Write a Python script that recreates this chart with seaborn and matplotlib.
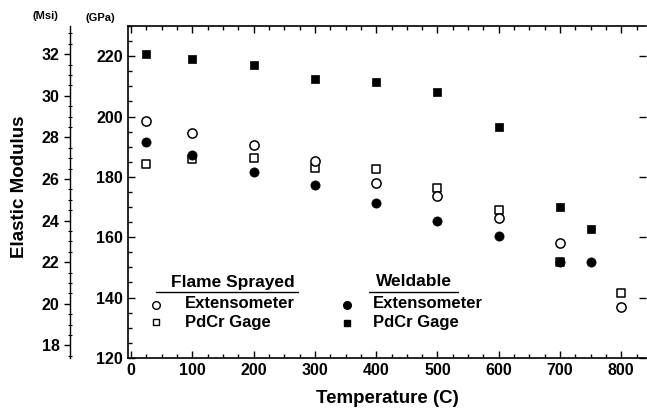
import matplotlib
matplotlib.use("Agg")
import matplotlib.pyplot as plt
from matplotlib.ticker import MultipleLocator
import seaborn as sns
import pandas as pd

# Data (GPa)
temp_weld = [25, 100, 200, 300, 400, 500, 600, 700, 750]
weld_pdcr = [220.7, 219.0, 217.0, 212.6, 211.6, 208.1, 196.5, 170.1, 162.8]
weld_ext = [191.7, 187.4, 181.7, 177.3, 171.2, 165.3, 160.3, 151.7, 151.7]

temp_flame = [25, 100, 200, 300, 400, 500, 600, 700, 800]
flame_ext = [198.6, 194.4, 190.4, 185.2, 178.0, 173.6, 166.4, 158.1, 136.8]
flame_pdcr = [184.4, 185.8, 186.3, 183.0, 182.5, 176.4, 169.0, 151.7, 141.5]

sns.set_theme(style="ticks")
plt.rcParams["font.family"] = ["Liberation Sans", "DejaVu Sans"]
plt.rcParams["font.weight"] = "bold"
plt.rcParams["text.color"] = "black"
plt.rcParams["axes.labelcolor"] = "black"
plt.rcParams["xtick.color"] = "black"
plt.rcParams["ytick.color"] = "black"

fig = plt.figure(figsize=(6.47, 4.2), dpi=100)
ax = fig.add_axes([0.198, 0.148, 0.800, 0.790])

df_fp = pd.DataFrame({"T": temp_flame, "E": flame_pdcr})
df_fe = pd.DataFrame({"T": temp_flame, "E": flame_ext})
df_wp = pd.DataFrame({"T": temp_weld, "E": weld_pdcr})
df_we = pd.DataFrame({"T": temp_weld, "E": weld_ext})

sns.scatterplot(data=df_fp, x="T", y="E", marker="s", s=30, facecolor="white",
                edgecolor="black", linewidth=1.1, ax=ax, zorder=3)
sns.scatterplot(data=df_fe, x="T", y="E", marker="o", s=44, facecolor="white",
                edgecolor="black", linewidth=1.1, ax=ax, zorder=3)
sns.scatterplot(data=df_wp, x="T", y="E", marker="s", s=30, color="black",
                edgecolor="black", linewidth=0.5, ax=ax, zorder=4)
sns.scatterplot(data=df_we, x="T", y="E", marker="o", s=44, color="black",
                edgecolor="black", linewidth=0.5, ax=ax, zorder=4)

ax.set_xlim(-5, 840)
ax.set_ylim(120, 230)
ax.xaxis.set_major_locator(MultipleLocator(100))
ax.xaxis.set_minor_locator(MultipleLocator(25))
ax.yaxis.set_major_locator(MultipleLocator(20))
ax.yaxis.set_minor_locator(MultipleLocator(5))
ax.set_yticks([120, 140, 160, 180, 200, 220])
ax.tick_params(which="both", direction="in", top=True, right=False,
               labelsize=11.5, width=1.0, color="black", labelcolor="black")
ax.tick_params(which="major", length=5)
ax.tick_params(which="minor", length=3)
ax.tick_params(axis="y", which="major", right=True)
ax.spines["right"].set_visible(False)
for s in ["left", "bottom", "top"]:
    ax.spines[s].set_linewidth(1.2)
    ax.spines[s].set_color("black")
for lab in ax.get_xticklabels() + ax.get_yticklabels():
    lab.set_fontweight("bold")
ax.set_xlabel("Temperature (C)", fontsize=13.5, fontweight="bold", labelpad=9, color="black")
ax.set_ylabel("")

# Secondary Msi axis
sec = ax.secondary_yaxis(-0.112, functions=(lambda g: g / 6.895, lambda m: m * 6.895))
sec.yaxis.set_major_locator(MultipleLocator(2))
sec.yaxis.set_minor_locator(MultipleLocator(0.5))
sec.set_yticks([18, 20, 22, 24, 26, 28, 30, 32])
sec.tick_params(which="major", direction="out", length=4, labelsize=11.5, width=1.0,
                color="black", labelcolor="black")
sec.tick_params(which="minor", direction="inout", length=3, width=0.8, color="black")
sec.spines["left"].set_linewidth(1.0)
sec.spines["left"].set_color("black")
for lab in sec.get_yticklabels():
    lab.set_fontweight("bold")

fig.text(0.030, 0.555, "Elastic Modulus", rotation=90, ha="center", va="center",
         fontsize=13.5, fontweight="bold")
fig.text(0.070, 0.962, "(Msi)", ha="center", va="center", fontsize=8, fontweight="bold")
fig.text(0.155, 0.958, "(GPa)", ha="center", va="center", fontsize=8, fontweight="bold")

# Manual legend (figure pixel coordinates -> fractions)
W, H = 647.0, 420.0
def fx(px):
    return px / W
def fy(py):
    return 1 - py / H

fig.text(fx(233), fy(282), "Flame Sprayed", ha="center", va="center", fontsize=12.5, fontweight="bold")
fig.add_artist(plt.Line2D([fx(156), fx(298)], [fy(292), fy(292)], color="black", lw=1.0))
fig.text(fx(414), fy(282), "Weldable", ha="center", va="center", fontsize=12.5, fontweight="bold")
fig.add_artist(plt.Line2D([fx(369), fx(458)], [fy(292), fy(292)], color="black", lw=1.0))

fig.add_artist(plt.Line2D([fx(156)], [fy(305)], marker="o", ms=5.5, mfc="white", mec="black", mew=1.0, ls=""))
fig.add_artist(plt.Line2D([fx(156)], [fy(322)], marker="s", ms=4.5, mfc="white", mec="black", mew=1.0, ls=""))
fig.add_artist(plt.Line2D([fx(347)], [fy(305)], marker="o", ms=5.5, mfc="black", mec="black", ls=""))
fig.add_artist(plt.Line2D([fx(347)], [fy(323)], marker="s", ms=4.5, mfc="black", mec="black", ls=""))

fig.text(fx(185), fy(304), "Extensometer", ha="left", va="center", fontsize=12, fontweight="bold")
fig.text(fx(185), fy(322), "PdCr Gage", ha="left", va="center", fontsize=12, fontweight="bold")
fig.text(fx(373), fy(304), "Extensometer", ha="left", va="center", fontsize=12, fontweight="bold")
fig.text(fx(373), fy(322), "PdCr Gage", ha="left", va="center", fontsize=12, fontweight="bold")

fig.savefig("out.png", dpi=100)
